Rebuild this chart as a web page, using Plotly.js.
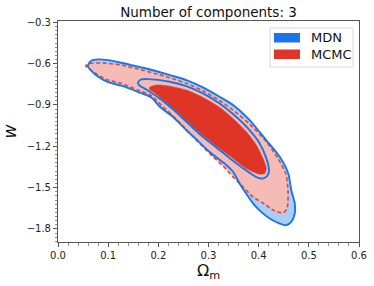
<!DOCTYPE html>
<html>
<head>
<meta charset="utf-8">
<script src="https://cdn.plot.ly/plotly-3.0.1.min.js"></script>
<style>html,body{margin:0;padding:0;background:#fff;}#chart{width:374px;height:286px;}</style>
</head>
<body>
<div id="chart"></div>
<script>
// ---- Data (contour outlines) ----
const mdnOuterX = [0.060,0.066,0.080,0.100,0.126,0.160,0.193,0.223,0.256,0.289,0.322,0.349,0.382,0.415,0.442,0.459,0.465,0.472,0.472,0.465,0.455,0.442,0.422,0.405,0.389,0.375,0.362,0.349,0.336,0.316,0.296,0.276,0.256,0.229,0.203,0.186,0.159,0.126,0.100,0.080,0.066,0.060];
const mdnOuterY = [-0.610,-0.579,-0.569,-0.574,-0.593,-0.622,-0.651,-0.683,-0.719,-0.772,-0.840,-0.900,-1.010,-1.155,-1.276,-1.397,-1.519,-1.615,-1.688,-1.749,-1.773,-1.761,-1.724,-1.676,-1.616,-1.543,-1.470,-1.385,-1.337,-1.281,-1.221,-1.150,-1.083,-0.986,-0.913,-0.845,-0.804,-0.760,-0.734,-0.695,-0.651,-0.622];

const mdnInnerX = [0.1595,0.1661,0.1794,0.2226,0.2558,0.2890,0.3223,0.3488,0.3787,0.4020,0.4153,0.4206,0.4173,0.4086,0.3967,0.3821,0.3488,0.3156,0.2824,0.2558,0.2292,0.2027,0.1761,0.1615];
const mdnInnerY = [-0.736,-0.714,-0.712,-0.731,-0.763,-0.816,-0.889,-0.966,-1.070,-1.179,-1.288,-1.373,-1.414,-1.434,-1.426,-1.393,-1.305,-1.208,-1.112,-1.022,-0.932,-0.852,-0.787,-0.755];

const mcmcOuterX = [0.0551,0.0631,0.0930,0.1262,0.1595,0.1927,0.2226,0.2558,0.2890,0.3223,0.3488,0.3821,0.4153,0.4385,0.4538,0.4585,0.4565,0.4485,0.4319,0.4120,0.3887,0.3688,0.3488,0.3289,0.3090,0.2890,0.2691,0.2492,0.2292,0.2093,0.1860,0.1595,0.1262,0.0997,0.0797,0.0631,0.0565];
const mcmcOuterY = [-0.615,-0.598,-0.596,-0.610,-0.639,-0.671,-0.702,-0.743,-0.797,-0.869,-0.937,-1.039,-1.167,-1.288,-1.397,-1.519,-1.652,-1.683,-1.669,-1.620,-1.567,-1.494,-1.422,-1.342,-1.276,-1.204,-1.131,-1.053,-0.981,-0.913,-0.833,-0.792,-0.743,-0.719,-0.683,-0.639,-0.622];

const mcmcInnerX = [0.1827,0.1960,0.2226,0.2558,0.2890,0.3223,0.3488,0.3754,0.3953,0.4086,0.4153,0.4120,0.4020,0.3754,0.3422,0.3090,0.2824,0.2558,0.2292,0.2093,0.1894,0.1827];
const mcmcInnerY = [-0.772,-0.755,-0.763,-0.792,-0.845,-0.918,-0.998,-1.095,-1.191,-1.288,-1.361,-1.397,-1.402,-1.361,-1.269,-1.179,-1.102,-1.015,-0.925,-0.860,-0.804,-0.787];

const seriesNames = ["MDN", "MCMC"];
const xTickVals = [0.0,0.1,0.2,0.3,0.4,0.5,0.6];
const xTickText = ["0.0","0.1","0.2","0.3","0.4","0.5","0.6"];
const yTickVals = [-0.3,-0.6,-0.9,-1.2,-1.5,-1.8];
const yTickText = ["\u22120.3","\u22120.6","\u22120.9","\u22121.2","\u22121.5","\u22121.8"];

// ---- Styles ----
const BLUE = "#1a75e6", BLUE_LIGHT = "#aacdf6";
const RED = "#de3526", RED_LINE = "#e0473b", PINK = "#f5bbb5";
const close = a => a.concat([a[0]]);
const spl = {shape: "spline", smoothing: 0.7};

const traces = [
  {x: mdnOuterX, y: mdnOuterY, type: "scatter", mode: "lines", fill: "toself",
   fillcolor: BLUE_LIGHT, line: Object.assign({width: 0, color: BLUE_LIGHT}, spl), name: seriesNames[0], showlegend: false, hoverinfo: "skip"},
  {x: close(mcmcOuterX), y: close(mcmcOuterY), type: "scatter", mode: "lines", fill: "toself",
   fillcolor: PINK, line: Object.assign({width: 1.6, color: RED_LINE, dash: "4px,2.5px"}, spl), name: seriesNames[1], showlegend: false, hoverinfo: "skip"},
  {x: close(mcmcInnerX), y: close(mcmcInnerY), type: "scatter", mode: "lines", fill: "toself",
   fillcolor: RED, line: Object.assign({width: 0.5, color: RED}, spl), name: seriesNames[1], showlegend: false, hoverinfo: "skip"},
  {x: close(mdnInnerX), y: close(mdnInnerY), type: "scatter", mode: "lines",
   line: Object.assign({width: 1.9, color: BLUE}, spl), name: seriesNames[0], showlegend: false, hoverinfo: "skip"},
  {x: close(mdnOuterX), y: close(mdnOuterY), type: "scatter", mode: "lines",
   line: Object.assign({width: 1.9, color: BLUE}, spl), name: seriesNames[0], showlegend: false, hoverinfo: "skip"}
];

// legend drawn in paper coordinates
const L = 58, R = 359, T = 21, B = 242;
const px = v => (v - L) / (R - L);
const py = v => (B - v) / (B - T);

const layout = {
  width: 374, height: 286,
  margin: {l: L, r: 374 - R, t: T, b: 286 - B, pad: 0},
  paper_bgcolor: "#fff", plot_bgcolor: "#fff",
  font: {family: "DejaVu Sans, sans-serif", size: 10, color: "#222"},
  title: {text: "Number of components: 3", font: {size: 13.5, color: "#111"}, x: 208.5 / 374, xanchor: "center", y: 1 - 12.5 / 286, yanchor: "middle"},
  showlegend: false,
  xaxis: {
    range: [0, 0.6], tickmode: "array", tickvals: xTickVals, ticktext: xTickText,
    ticks: "outside", ticklen: 4, tickwidth: 1, tickcolor: "#555",
    minor: {dtick: 0.02, tick0: 0, ticks: "outside", ticklen: 2.5, tickwidth: 0.8, tickcolor: "#777", showgrid: false},
    showline: true, linecolor: "#555", linewidth: 1, mirror: true,
    showgrid: false, zeroline: false, tickfont: {size: 10, color: "#222"},
    title: {text: "\u03A9<sub>m</sub>", font: {size: 16, color: "#111"}, standoff: 4}
  },
  yaxis: {
    range: [-1.895, -0.29], tickmode: "array", tickvals: yTickVals, ticktext: yTickText,
    ticks: "outside", ticklen: 4, tickwidth: 1, tickcolor: "#555",
    minor: {dtick: 0.03, tick0: -0.3, ticks: "outside", ticklen: 2.5, tickwidth: 0.8, tickcolor: "#777", showgrid: false},
    showline: true, linecolor: "#555", linewidth: 1, mirror: true,
    showgrid: false, zeroline: false, tickfont: {size: 10, color: "#222"},
    title: {text: "<i>w</i>", font: {size: 17, color: "#111"}, standoff: 6}
  },
  shapes: [
    {type: "rect", xref: "paper", yref: "paper", x0: px(270), x1: px(353), y0: py(67), y1: py(28),
     line: {color: "#d8d8d8", width: 1}, fillcolor: "rgba(255,255,255,0.85)", layer: "above"},
    {type: "rect", xref: "paper", yref: "paper", x0: px(274), x1: px(300), y0: py(42.5), y1: py(33),
     line: {width: 0}, fillcolor: BLUE, layer: "above"},
    {type: "rect", xref: "paper", yref: "paper", x0: px(274), x1: px(300), y0: py(59), y1: py(49.5),
     line: {width: 0}, fillcolor: RED, layer: "above"}
  ],
  annotations: [
    {xref: "paper", yref: "paper", x: px(309), y: py(38), text: seriesNames[0], showarrow: false,
     xanchor: "left", yanchor: "middle", font: {size: 13, color: "#111"}},
    {xref: "paper", yref: "paper", x: px(309), y: py(54.5), text: seriesNames[1], showarrow: false,
     xanchor: "left", yanchor: "middle", font: {size: 13, color: "#111"}}
  ]
};

Plotly.newPlot("chart", traces, layout, {staticPlot: true, displayModeBar: false});
</script>
</body>
</html>
